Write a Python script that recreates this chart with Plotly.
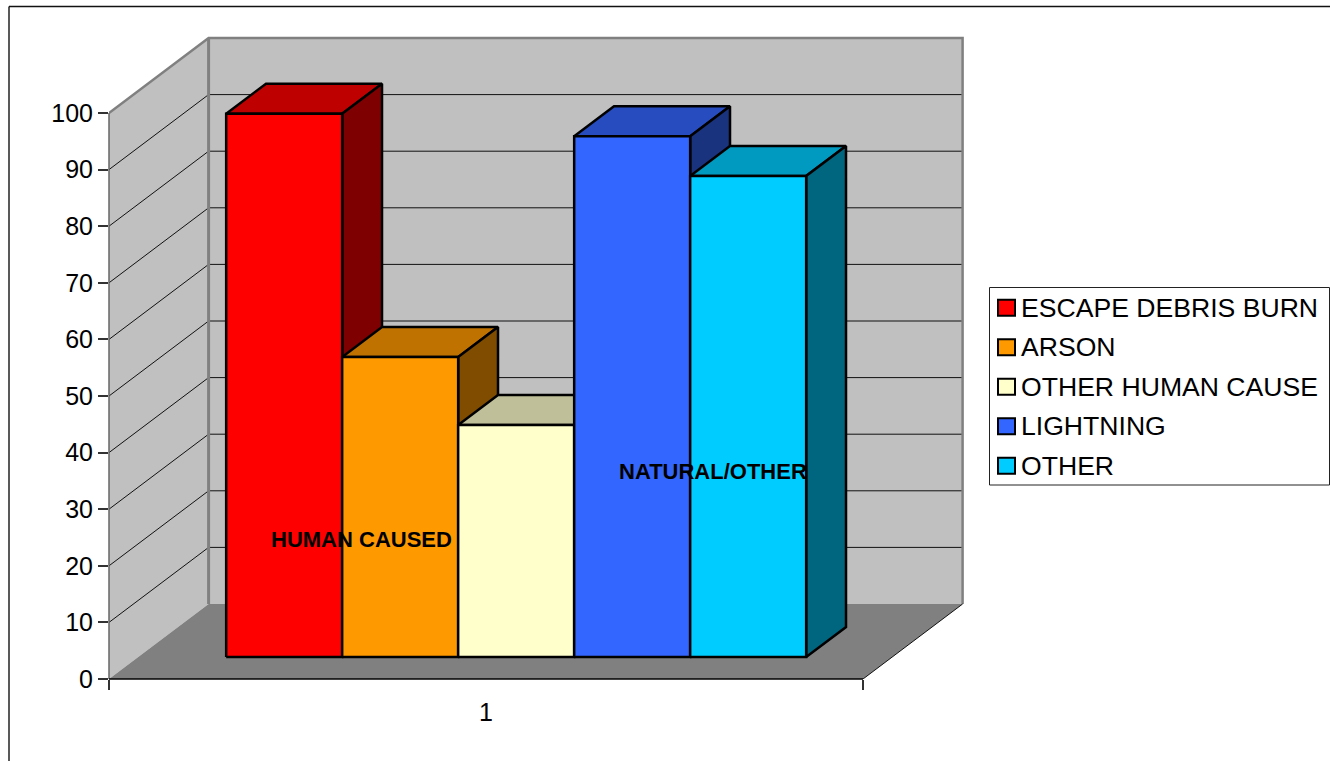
import plotly.graph_objects as go

# ---- data -------------------------------------------------------------
categories = ["ESCAPE DEBRIS BURN", "ARSON", "OTHER HUMAN CAUSE", "LIGHTNING", "OTHER"]
values = [96, 53, 41, 92, 85]
colors = ["#FF0000", "#FF9900", "#FFFFCC", "#3366FF", "#00CCFF"]
value_ticks = [0, 10, 20, 30, 40, 50, 60, 70, 80, 90, 100]
group_labels = ["1"]
notes = ["HUMAN CAUSED", "NATURAL/OTHER"]

# ---- layout geometry (page pixels) ------------------------------------
W, H = 1330, 761
L, R, T, B = 109, 970, 30, 679
AX_W = 754          # pixels for one category along the x axis
AX_H = 5.66         # pixels per value unit
DEPTH_PX = (99.6, 75)  # floor depth vector

xmax = (R - L) / AX_W
ymax = (B - T) / AX_H
DX = DEPTH_PX[0] / AX_W
DY = DEPTH_PX[1] / AX_H

BAR_W = 116 / AX_W
BAR_X0 = 0.1167
U0, U1 = 0.293, 0.693


def pr(x, v, u=0.0):
    """Oblique projection: category position, value, depth -> axis coords."""
    return x + u * DX, v + u * DY


def px(x):
    return (x - L) / (R - L)


def py(y):
    return (B - y) / (B - T)


def shade(hex_color, f):
    r, g, b = (int(hex_color[i:i + 2], 16) for i in (1, 3, 5))
    return "#%02X%02X%02X" % (int(r * f), int(g * f), int(b * f))


fig = go.Figure()


def poly(points, fill, name="", line_color=None, width=0):
    xs, ys = zip(*points)
    fig.add_trace(go.Scatter(
        x=list(xs) + [xs[0]], y=list(ys) + [ys[0]], mode="lines", fill="toself",
        fillcolor=fill, name=name, showlegend=False, hoverinfo="name",
        line=dict(color=line_color or fill, width=width), ))


def path(points, color, width, name=""):
    xs, ys = zip(*points)
    fig.add_trace(go.Scatter(x=list(xs), y=list(ys), mode="lines", showlegend=False,
                             hoverinfo="skip", name=name,
                             line=dict(color=color, width=width)))


# walls and floor
poly([pr(0, 0), pr(0, 100), pr(0, 100, 1), pr(0, 0, 1)], "#C0C0C0", "side wall")
poly([pr(0, 0, 1), pr(0, 100, 1), pr(1, 100, 1), pr(1, 0, 1)], "#C0C0C0", "back wall")
poly([pr(0, 0), pr(1, 0), pr(1, 0, 1), pr(0, 0, 1)], "#808080", "floor")

for v in value_ticks[1:-1]:
    path([pr(0, v), pr(0, v, 1), pr(1, v, 1)], "#111111", 1)
path([pr(0, 100), pr(0, 100, 1), pr(1, 100, 1), pr(1, 0, 1)], "#808080", 2.5)
path([pr(0, 100, 1), pr(0, 0, 1)], "#808080", 3)
path([pr(1, 0), pr(1, 0, 1)], "#111111", 1)

# bars, left to right
for i, (name, v, c) in enumerate(zip(categories, values, colors)):
    x0 = BAR_X0 + i * BAR_W
    x1 = x0 + BAR_W
    stroke = dict(line_color="#000000", width=2.5)
    poly([pr(x0, v, U0), pr(x1, v, U0), pr(x1, v, U1), pr(x0, v, U1)],
         shade(c, 0.75), name, **stroke)
    poly([pr(x1, 0, U0), pr(x1, v, U0), pr(x1, v, U1), pr(x1, 0, U1)],
         shade(c, 0.5), name, **stroke)
    poly([pr(x0, 0, U0), pr(x1, 0, U0), pr(x1, v, U0), pr(x0, v, U0)], c, name, **stroke)

shapes = [
    # value axis line and floor front edge
    dict(type="line", xref="paper", yref="y", x0=0, x1=0, y0=-1.9, y1=100,
         line=dict(color="#666666", width=1.5)),
    dict(type="line", xref="x", yref="paper", x0=0, x1=1, y0=0, y1=0,
         line=dict(color="#000000", width=1.5)),
    # chart frame
    dict(type="line", xref="paper", yref="paper", x0=px(9), x1=px(9), y0=py(6.5), y1=py(H + 5),
         line=dict(color="#222222", width=1.5)),
    dict(type="line", xref="paper", yref="paper", x0=px(9), x1=px(W + 5), y0=py(6.5), y1=py(6.5),
         line=dict(color="#111111", width=1.5)),
    # legend box
    dict(type="rect", xref="paper", yref="paper", x0=px(989.5), x1=px(1329.5), y0=py(287.5), y1=py(485),
         line=dict(color="#222222", width=1), fillcolor="#FFFFFF"),
]

bold = dict(size=22, color="#000000", family="Liberation Sans", weight="bold")
annotations = [
    dict(x=px(361), y=py(539), xref="paper", yref="paper", text=notes[0], showarrow=False,
         xanchor="center", yanchor="middle", font=bold),
    dict(x=px(713), y=py(471), xref="paper", yref="paper", text=notes[1], showarrow=False,
         xanchor="center", yanchor="middle", font=bold),
]

# legend rows
ROW0, ROW_STEP = 307.7, 39.5
for i, (name, c) in enumerate(zip(categories, colors)):
    yc = ROW0 + i * ROW_STEP
    shapes.append(dict(type="rect", xref="paper", yref="paper",
                       x0=px(998), x1=px(1015), y0=py(yc - 8), y1=py(yc + 8),
                       fillcolor=c, line=dict(color="#000000", width=2)))
    annotations.append(dict(x=px(1020), y=py(yc), xref="paper", yref="paper", text=name,
                            xanchor="left", yanchor="middle", showarrow=False, borderpad=0,
                            font=dict(size=26.6, color="#000000", family="Liberation Sans")))

fig.update_layout(
    width=W, height=H, autosize=False,
    margin=dict(l=L, r=W - R, t=T, b=H - B, pad=0),
    paper_bgcolor="#FFFFFF", plot_bgcolor="#FFFFFF",
    showlegend=False, shapes=shapes, annotations=annotations,
    font=dict(family="Liberation Sans", size=25, color="#000000"),
    xaxis=dict(range=[0, xmax], tickvals=[0.5], ticktext=group_labels, ticks="",
               showgrid=False, zeroline=False, showline=False, ticklabelstandoff=16,
               minor=dict(tickvals=[0, 1], ticks="outside", ticklen=10, tickwidth=1.5,
                          tickcolor="#333333", showgrid=False)),
    yaxis=dict(range=[0, ymax], tickvals=value_ticks, ticks="outside", ticklen=10,
               tickwidth=1.5, tickcolor="#333333", showgrid=False, zeroline=False, showline=False),
)

fig.write_html("out.html", config={"displayModeBar": False},
               post_script="document.body.style.margin='0';document.body.style.overflow='hidden';")
